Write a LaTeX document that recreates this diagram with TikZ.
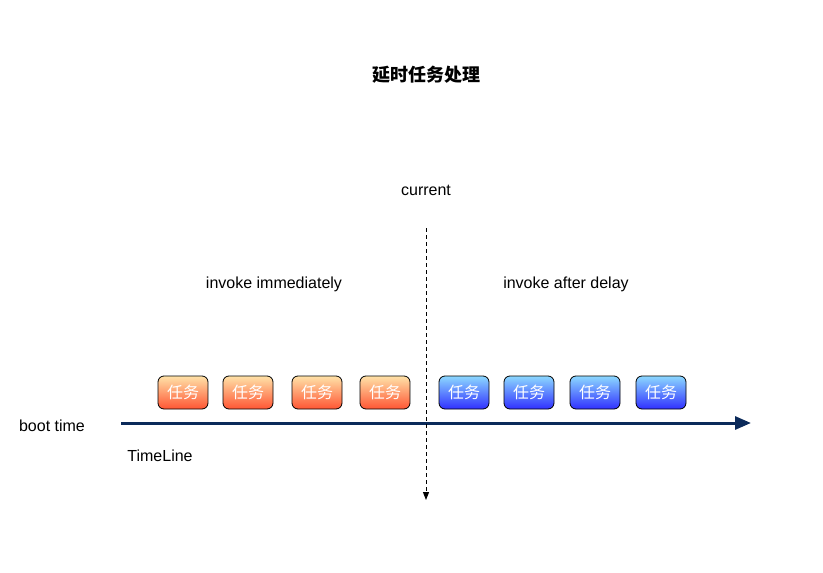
\documentclass[tikz,border=0pt]{standalone}
\usepackage{fontspec}
\setmainfont{Liberation Sans}
\newfontfamily\cjk{Noto Sans CJK SC}
\usetikzlibrary{arrows.meta}
\definecolor{navy}{HTML}{0B2A5A}
\definecolor{otop}{HTML}{FFE2A8}
\definecolor{obot}{HTML}{FF5533}
\definecolor{btop}{HTML}{8CD8FF}
\definecolor{bbot}{HTML}{3030FF}
\tikzset{
  lbl/.style={font=\fontsize{16}{18}\selectfont, inner sep=0pt},
  task/.style={draw=black, line width=0.8pt, rounded corners=6pt, minimum width=50pt, minimum height=33pt, inner sep=0pt, text=white, font=\cjk\fontsize{16}{18}\selectfont},
  redtask/.style={task, top color=otop, bottom color=obot},
  bluetask/.style={task, top color=btop, bottom color=bbot},
}
\begin{document}
\begin{tikzpicture}[x=1pt,y=-1pt]
\useasboundingbox (0,0) rectangle (823,573);
\node[lbl, font=\cjk\bfseries\fontsize{18}{20}\selectfont] (title) at (426,75) {延时任务处理};
\node[lbl] (cur) at (426,190.5) {current};
\node[lbl] (imm) at (274,284.5) {invoke immediately};
\node[lbl] (aft) at (566,284.5) {invoke after delay};
\node[lbl] (boot) at (52,425.5) {boot time};
\node[lbl] (tl) at (160,455.5) {TimeLine};
\node[redtask] (r1) at (183,392.5) {任务};
\node[redtask] (r2) at (248,392.5) {任务};
\node[redtask] (r3) at (317,392.5) {任务};
\node[redtask] (r4) at (385,392.5) {任务};
\node[bluetask] (b1) at (464,392.5) {任务};
\node[bluetask] (b2) at (529,392.5) {任务};
\node[bluetask] (b3) at (595,392.5) {任务};
\node[bluetask] (b4) at (661,392.5) {任务};
\coordinate (ts) at (121,423);
\coordinate (te) at (751,423);
\coordinate (ds) at (426,228);
\coordinate (de) at (426,500);
\draw[navy, line width=3pt, -{Triangle[length=16pt,width=13pt]}] (ts) -- (te);
\draw[black, line width=1pt, dash pattern=on 4pt off 3pt, -{Triangle[length=8pt,width=6pt]}] (ds) -- (de);
\end{tikzpicture}
\end{document}
